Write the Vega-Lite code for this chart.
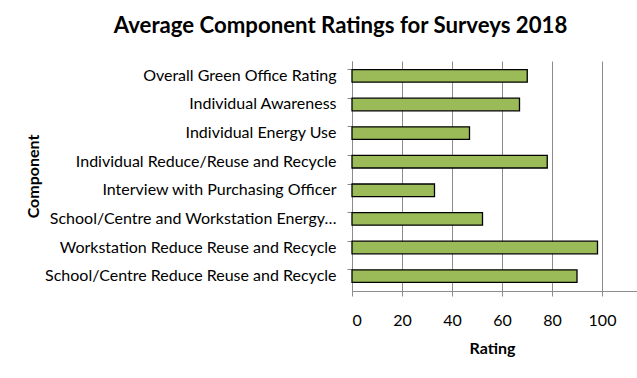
{
  "$schema": "https://vega.github.io/schema/vega-lite/v6.json",
  "width": 285,
  "height": 230,
  "autosize": {"type": "none"},
  "padding": {"left": 352, "top": 61, "right": 0, "bottom": 87},
  "background": "white",
  "config": {"view": {"stroke": null}, "font": "Lato"},
  "title": {
    "text": "Average Component Ratings for Surveys 2018",
    "font": "Lato",
    "fontSize": 22.2,
    "fontWeight": "bold",
    "color": "black",
    "anchor": "middle",
    "dx": -154,
    "offset": 24
  },
  "data": {
    "values": [
      {"component": "Overall Green Office Rating", "rating": 70.1},
      {"component": "Individual Awareness", "rating": 67.0},
      {"component": "Individual Energy Use", "rating": 47.0},
      {"component": "Individual Reduce/Reuse and Recycle", "rating": 78.1},
      {"component": "Interview with Purchasing Officer", "rating": 33.0},
      {"component": "School/Centre and Workstation Energy…", "rating": 52.2},
      {"component": "Workstation Reduce Reuse and Recycle", "rating": 98.2},
      {"component": "School/Centre Reduce Reuse and Recycle", "rating": 90.0}
    ]
  },
  "encoding": {
    "x": {
      "field": "rating",
      "type": "quantitative",
      "scale": {"domain": [0, 114], "nice": false, "zero": true},
      "axis": {
        "title": "Rating",
        "titleFont": "Lato",
        "titleFontSize": 16,
        "titleFontWeight": "bold",
        "titleColor": "black",
        "titleY": 57,
        "titleX": 140,
        "titleBaseline": "middle",
        "values": [0, 20, 40, 60, 80, 100],
        "labelFont": "Lato",
        "labelFontSize": 16,
        "labelColor": "black",
        "labelPadding": 16,
        "tickSize": 5,
        "tickColor": "#8c8c8c",
        "domainColor": "#8c8c8c",
        "gridColor": "#8c8c8c",
        "grid": true
      }
    },
    "y": {
      "field": "component",
      "type": "nominal",
      "sort": null,
      "scale": {"paddingInner": 0.56, "paddingOuter": 0.3}
    }
  },
  "layer": [
    {
      "mark": {"type": "bar", "fill": "#9BBB59", "stroke": "black", "strokeWidth": 1.3},
      "encoding": {
        "y": {
          "field": "component",
          "type": "nominal",
          "sort": null,
          "axis": {
            "title": "Component",
            "titleFont": "Lato",
            "titleFontSize": 16,
            "titleFontWeight": "bold",
            "titleColor": "black",
            "titleAngle": -90,
            "titleX": -319,
            "titleY": 115,
            "titleBaseline": "middle",
            "titleAlign": "center",
            "labelFont": "Lato",
            "labelFontSize": 16,
            "labelColor": "black",
            "labelPadding": 16,
            "labelLimit": 400,
            "ticks": false,
            "domainColor": "#8c8c8c"
          }
        }
      }
    },
    {
      "mark": {"type": "bar", "opacity": 0},
      "encoding": {
        "y": {
          "field": "component",
          "type": "nominal",
          "sort": null,
          "axis": {
            "orient": "left",
            "title": null,
            "labels": false,
            "domain": false,
            "ticks": true,
            "tickSize": 5,
            "tickColor": "#8c8c8c",
            "bandPosition": 0
          }
        }
      }
    }
  ],
  "resolve": {"axis": {"y": "independent"}}
}
